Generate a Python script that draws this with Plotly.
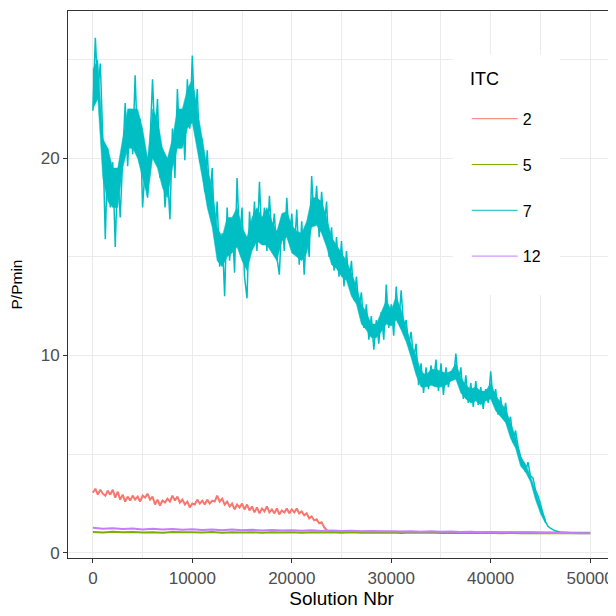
import plotly.graph_objects as go

# ITC groups and ggplot default hue colours
itc_levels = ["2", "5", "7", "12"]
itc_colors = ["#F8766D", "#7CAE00", "#00BFC4", "#C77CFF"]

# ITC 7: every 250 solutions (alternating upper / lower edge of the band)
itc7_x = list(range(0, 50001, 250))
itc7_y = [
    22.4, 26.1, 23.4, 24.8, 21.0,
    15.9, 20.5, 17.5, 19.8,
    15.5, 19.5, 17.0, 20.0,
    22.8, 19.6, 22.5, 20.2,
    24.2, 20.5, 22.0, 17.5,
    19.5, 18.0, 20.8, 24.0,
    20.8, 23.0, 19.0, 20.5,
    17.5, 19.2, 16.9, 21.5,
    19.0, 23.5, 20.5, 22.5,
    19.9, 24.0, 21.5, 25.2,
    21.8, 23.5, 19.8, 21.0,
    18.3, 20.4, 17.8, 19.5,
    16.0, 17.8, 14.5, 16.2,
    13.0, 17.5, 14.8, 16.8,
    14.2, 19.0, 15.8, 17.5,
    14.0, 12.9, 17.3, 15.5,
    17.8, 15.3, 18.8, 15.8,
    17.5, 15.3, 18.1, 16.0,
    17.2, 15.0, 14.1, 17.0,
    15.3, 18.0, 15.8, 17.2,
    15.2, 17.4, 14.6, 16.8,
    14.1, 16.5, 15.0, 19.1,
    16.8, 18.6, 16.0, 18.3,
    16.5, 17.8, 15.0, 16.5,
    14.3, 16.0, 14.0, 15.8,
    13.5, 15.3, 13.6, 14.8,
    12.8, 14.0, 12.4, 13.2,
    11.4, 12.6, 10.8, 12.0,
    10.3, 11.8, 10.6, 12.2,
    10.8, 13.6, 11.4, 12.6,
    11.0, 13.5, 11.6, 13.3,
    11.4, 11.8, 10.5, 11.2,
    9.8, 10.6, 8.5, 9.6,
    8.1, 9.4, 8.3, 9.5,
    8.6, 9.8, 8.2, 9.6,
    8.0, 9.4, 8.4, 9.2,
    8.8, 10.1, 8.6, 9.4,
    7.8, 9.0, 7.6, 8.6,
    7.4, 8.7, 7.5, 8.4,
    7.3, 8.3, 7.6, 9.2,
    7.7, 8.3, 7.0, 7.9,
    6.8, 7.6, 6.5, 6.9,
    5.6, 6.2, 5.4, 4.9,
    4.5, 4.1, 4.6, 3.9,
    3.8, 3.2, 2.9, 2.5,
    2.0, 1.6, 1.35, 1.25,
    1.18, 1.12, 1.08, 1.05,
    1.04, 1.03, 1.03, 1.02, 1.02, 1.01, 1.01, 1.0, 1.0, 1.0, 1.0, 1.0,
]

# ITC 7: edges of the dense core of the band, every 500 solutions
itc7_band_x = list(range(0, 45501, 500))
itc7_band_hi = [
    24.5, 25.0, 21.0, 20.5, 19.5, 19.5, 21.0, 22.5, 22.5, 22.5,
    21.5, 20.0, 22.5, 22.0, 20.5, 20.0, 21.0, 22.5, 22.5, 23.5,
    24.0, 22.5, 21.0, 19.5, 18.5, 16.5, 16.0, 17.0, 17.0, 17.5,
    16.5, 16.0, 17.0, 17.5, 17.0, 17.5, 16.8, 16.3, 17.2, 17.3,
    16.6, 16.3, 16.2, 16.8, 18.0, 18.0, 17.8, 17.0, 16.0, 15.6,
    15.2, 14.8, 14.2, 13.5, 12.6, 12.2, 11.6, 11.6, 12.2, 12.8,
    12.3, 13.0, 12.3, 11.4, 10.6, 10.0, 9.2, 9.0, 9.3, 9.3,
    9.2, 9.1, 9.2, 9.6, 8.9, 8.5, 8.3, 8.4, 8.2, 8.2,
    8.6, 8.0, 7.6, 7.3, 6.6, 5.9, 4.9, 4.5, 3.9, 3.1,
    2.4, 1.7,
]
itc7_band_lo = [
    22.5, 23.0, 19.0, 17.8, 17.5, 17.5, 19.5, 20.5, 20.5, 20.0,
    19.0, 18.0, 20.0, 19.5, 18.5, 18.0, 19.5, 20.5, 20.5, 21.5,
    21.8, 20.5, 19.0, 17.5, 16.5, 14.8, 14.5, 15.0, 15.2, 15.5,
    14.8, 14.3, 15.3, 15.8, 15.6, 15.6, 15.2, 14.8, 15.8, 16.0,
    15.2, 15.0, 14.8, 15.2, 16.5, 16.6, 16.2, 15.5, 14.6, 14.4,
    14.0, 13.8, 13.0, 12.6, 11.6, 11.3, 10.9, 10.9, 11.2, 11.6,
    11.5, 11.8, 11.3, 10.7, 9.9, 9.0, 8.4, 8.4, 8.5, 8.4,
    8.4, 8.5, 8.7, 8.8, 8.1, 7.8, 7.6, 7.7, 7.5, 7.7,
    7.8, 7.2, 6.9, 6.6, 5.8, 5.3, 4.4, 4.1, 3.6, 2.7,
    2.0, 1.5,
]

# ITC 2
itc2_x = list(range(0, 23751, 250)) + [50000]
itc2_y = [
    3.05, 3.25, 2.95, 3.2, 3.0,
    2.9, 3.15, 2.95, 3.2,
    2.8, 3.1, 2.7, 2.95,
    2.6, 2.85, 2.65, 2.9,
    2.7, 2.85, 2.6, 2.9,
    2.8, 3.0, 2.7, 2.85,
    2.45, 2.7, 2.4, 2.65,
    2.55, 2.75, 2.6, 2.9,
    2.65, 2.85, 2.55, 2.7,
    2.45, 2.6, 2.3, 2.5,
    2.45, 2.7, 2.5, 2.65,
    2.45, 2.7, 2.5, 2.65,
    2.6, 2.9, 2.6, 2.75,
    2.45, 2.6, 2.35, 2.5,
    2.2, 2.45, 2.3, 2.5,
    2.2, 2.45, 2.15, 2.35,
    2.05, 2.3, 2.0, 2.25,
    2.1, 2.35, 2.05, 2.2,
    2.0, 2.25, 1.95, 2.15,
    2.05, 2.25, 2.0, 2.2,
    2.05, 2.25, 2.0, 2.1,
    1.9, 2.0, 1.75, 1.85,
    1.65, 1.7, 1.5, 1.55,
    1.3, 1.15, 1.08,
    1.02,
]

# ITC 5 and 12, every 1000 solutions
low_x = list(range(0, 50001, 1000))
itc5_y = [1.06, 1.03, 1.07, 1.04, 1.06, 1.03, 1.05, 1.02, 1.06, 1.04, 1.05, 1.03, 1.06,
          1.02, 1.05, 1.03, 1.05, 1.02, 1.04, 1.03, 1.05, 1.02, 1.04, 1.03, 1.04, 1.02,
          1.04, 1.02, 1.03, 1.02, 1.03, 1.01, 1.03, 1.02, 1.03, 1.01, 1.02, 1.01, 1.02,
          1.01, 1.02, 1.0, 1.01, 1.0, 1.01, 1.0, 1.0, 1.0, 1.0, 1.0, 1.0]
itc12_y = [1.27, 1.22, 1.25, 1.21, 1.24, 1.19, 1.22, 1.18, 1.21, 1.17, 1.2, 1.16, 1.19,
           1.15, 1.18, 1.14, 1.17, 1.13, 1.16, 1.13, 1.15, 1.12, 1.14, 1.11, 1.13, 1.11,
           1.12, 1.1, 1.11, 1.09, 1.1, 1.08, 1.1, 1.07, 1.09, 1.07, 1.08, 1.06, 1.07,
           1.05, 1.06, 1.04, 1.05, 1.03, 1.04, 1.02, 1.02, 1.01, 1.01, 1.0, 1.0]

series = [(itc2_x, itc2_y), (low_x, itc5_y), (itc7_x, itc7_y), (low_x, itc12_y)]
widths = [2, 2, 1.5, 2]

FONT = "Liberation Sans, Arial, sans-serif"
GRID = "#EBEBEB"

fig = go.Figure()
for name, color, w, (xs, ys) in zip(itc_levels, itc_colors, widths, series):
    if name == "7":
        # solid core of the dense noisy run
        fig.add_trace(go.Scatter(
            x=itc7_band_x + itc7_band_x[::-1],
            y=itc7_band_hi + itc7_band_lo[::-1],
            mode="lines", fill="toself", fillcolor=color,
            line=dict(color=color, width=0.5), showlegend=False, hoverinfo="skip",
        ))
    fig.add_trace(go.Scatter(
        x=xs, y=ys, mode="lines", name=name, showlegend=False,
        line=dict(color=color, width=w, simplify=False),
    ))
# legend keys drawn thin, like ggplot
for name, color in zip(itc_levels, itc_colors):
    fig.add_trace(go.Scatter(
        x=[None], y=[None], mode="lines", name=name, legendgroup=name,
        line=dict(color=color, width=1),
    ))

axis_common = dict(
    showgrid=True, gridcolor=GRID, gridwidth=1.1,
    zeroline=False, automargin=False,
    showline=True, linecolor="#333333", linewidth=1, mirror=True,
    ticks="outside", ticklen=4, tickwidth=1, tickcolor="#333333",
    tickformat="d",
    tickfont=dict(family=FONT, size=17, color="#4D4D4D"),
)

# the page body adds an 8px offset, so the figure is 608 wide and margins are trimmed by 8
fig.update_layout(
    width=608, height=608,
    margin=dict(l=60, r=1, t=3, b=58),
    paper_bgcolor="white", plot_bgcolor="white",
    font=dict(family=FONT, color="black"),
    xaxis=dict(
        range=[-2500, 52500], tick0=0, dtick=10000,
        minor=dict(dtick=5000, showgrid=True, gridcolor=GRID, gridwidth=0.5, ticks=""),
        title=dict(text="Solution Nbr", font=dict(family=FONT, size=19), standoff=4),
        ticklabelstandoff=1,
        **axis_common,
    ),
    yaxis=dict(
        range=[-0.26, 27.46], tick0=0, dtick=10,
        minor=dict(dtick=5, showgrid=True, gridcolor=GRID, gridwidth=0.5, ticks=""),
        title=dict(text="P/Pmin", font=dict(family=FONT, size=15.5), standoff=14),
        **axis_common,
    ),
    legend=dict(
        x=0.729, y=0.834, xanchor="left", yanchor="top",
        bgcolor="white", borderwidth=0,
        font=dict(family=FONT, size=16),
        tracegroupgap=22,
        itemwidth=46,
    ),
    # white legend panel (covers the grid, as in ggplot)
    shapes=[dict(
        type="rect", xref="x domain", yref="y domain",
        x0=0.704, x1=0.899, y0=0.481, y1=0.920,
        fillcolor="white", line=dict(width=0), layer="above",
    )],
    annotations=[dict(
        text="ITC", xref="paper", yref="paper", x=0.731, y=0.876,
        xanchor="left", yanchor="middle", showarrow=False,
        font=dict(family=FONT, size=18, color="black"),
    )],
)

fig.write_html("out.html")
